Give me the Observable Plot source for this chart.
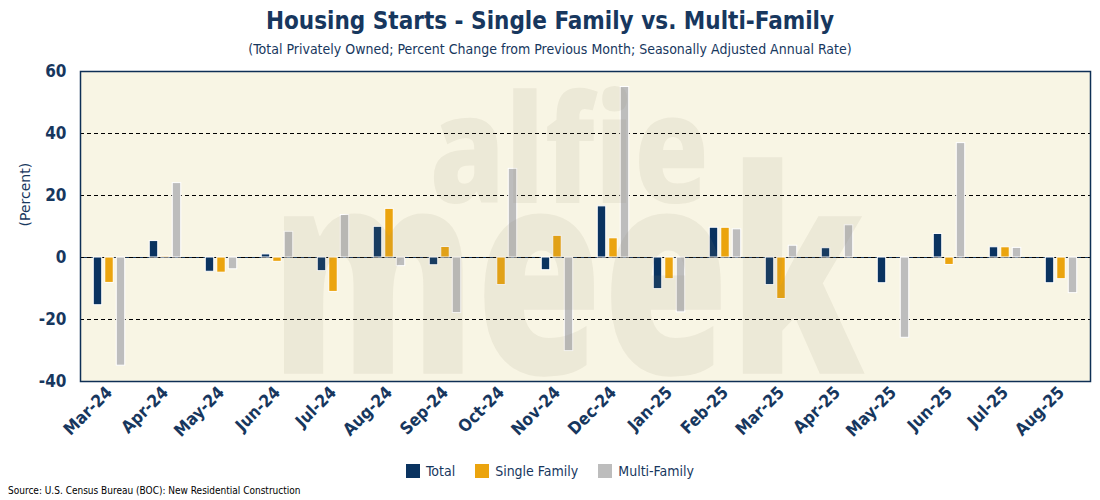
<!DOCTYPE html>
<html>
<head>
<meta charset="utf-8">
<script src="https://cdn.jsdelivr.net/npm/d3@7"></script>
<script src="https://cdn.jsdelivr.net/npm/@observablehq/plot@0.6"></script>
<style>
  html, body { margin: 0; padding: 0; background: #ffffff; }
  body { width: 1100px; height: 500px; position: relative; overflow: hidden; font-family: "DejaVu Sans Condensed", "DejaVu Sans", sans-serif; color: #17375E; }
  #title { position: absolute; top: 6px; left: 0; width: 1100px; text-align: center; font-size: 24px; line-height: 30px; font-weight: bold; color: #17375E; }
  #subtitle { position: absolute; top: 41px; left: 0; width: 1100px; text-align: center; font-size: 14px; line-height: 16px; color: #17375E; }
  #chart { position: absolute; top: 60px; left: 0; }
  #legend { position: absolute; top: 462px; left: 0; width: 1100px; text-align: center; font-size: 14px; line-height: 18px; color: #17375E; }
  #legend span.item { display: inline-block; margin: 0 10px; }
  #legend span.sw { display: inline-block; width: 14px; height: 14px; vertical-align: -2px; margin-right: 6px; }
  #source { position: absolute; top: 485px; left: 8px; font-size: 10px; line-height: 12px; color: #000; }
</style>
</head>
<body>
<div id="title">Housing Starts - Single Family vs. Multi-Family</div>
<div id="subtitle">(Total Privately Owned; Percent Change from Previous Month; Seasonally Adjusted Annual Rate)</div>
<div id="chart"></div>
<div id="legend"></div>
<div id="source">Source: U.S. Census Bureau (BOC): New Residential Construction</div>
<script>
const months = ["Mar-24","Apr-24","May-24","Jun-24","Jul-24","Aug-24","Sep-24","Oct-24","Nov-24","Dec-24","Jan-25","Feb-25","Mar-25","Apr-25","May-25","Jun-25","Jul-25","Aug-25"];
const total  = [-15.4, 5.3, -4.6, 1.0, -4.4, 9.9, -2.5, 0.0, -4.1, 16.5, -10.2, 9.6, -8.9, 3.0, -8.3, 7.6, 3.3, -8.3];
const single = [-8.2, 0.4, -4.9, -1.4, -11.1, 15.7, 3.4, -8.9, 7.0, 6.2, -7.0, 9.6, -13.4, null, null, -2.4, 3.3, -7.0];
const multi  = [-34.9, 24.0, -3.8, 8.3, 13.7, -2.8, -17.9, 28.6, -30.2, 55.0, -17.7, 9.1, 3.8, 10.4, -25.9, 36.9, 3.1, -11.5];
const seriesNames = ["Total", "Single Family", "Multi-Family"];
const seriesColors = ["#0A3360", "#EBA40E", "#BDBDBD"];
const yTicks = [-40, -20, 0, 20, 40, 60];
const gridValues = [-20, 20, 40];
const watermark = ["alfie", "meek"];

const rows = months.map((m, i) => ({month: m, total: total[i], single: single[i], multi: multi[i]}));
const navy = "#17375E";
const inset = 23.75;
const wmStyle = {textAnchor: "start", lineAnchor: "top", fontWeight: 800, fontFamily: "'Open Sans', sans-serif", fill: "#8E8A70", fillOpacity: 0.11, clip: true};

const chart = Plot.plot({
  width: 1100,
  height: 391,
  marginTop: 11,
  marginBottom: 70,
  marginLeft: 80,
  marginRight: 10,
  style: {fontFamily: "'DejaVu Sans Condensed', 'DejaVu Sans', sans-serif", background: "transparent"},
  x: {type: "band", domain: months, padding: 0},
  y: {domain: [-40, 60]},
  marks: [
    Plot.frame({fill: "#F8F5E4", stroke: null}),
    Plot.ruleY(gridValues, {stroke: "#000", strokeWidth: 1, strokeDasharray: "4,3"}),
    Plot.ruleY([0], {stroke: navy, strokeWidth: 1.2}),
    Plot.ruleY([0], {stroke: "#000", strokeWidth: 1.2, strokeDasharray: "4,3"}),
    Plot.barY(rows.filter(d => d.total != null), {x: "month", y: "total", fill: seriesColors[0], stroke: "white", strokeWidth: 1, dx: -11.5, insetLeft: inset, insetRight: inset}),
    Plot.barY(rows.filter(d => d.single != null), {x: "month", y: "single", fill: seriesColors[1], stroke: "white", strokeWidth: 1, dx: 0, insetLeft: inset, insetRight: inset}),
    Plot.barY(rows.filter(d => d.multi != null), {x: "month", y: "multi", fill: seriesColors[2], stroke: "white", strokeWidth: 1, dx: 11.5, insetLeft: inset, insetRight: inset}),
    Plot.text([watermark[0]], {...wmStyle, frameAnchor: "top-left", dx: 349, dy: 25, fontSize: 150}),
    Plot.text([watermark[1]], {...wmStyle, frameAnchor: "top-left", dx: 190, dy: 100, fontSize: 285}),
    Plot.frame({stroke: "#0E2F55", strokeWidth: 1.5}),
    Plot.axisY({ticks: yTicks, tickFormat: d => String(d), tickSize: 0, tickPadding: 14, fontSize: 17, fontWeight: "bold", color: navy, label: null}),
    Plot.axisX({tickSize: 0, tickPadding: 8, tickRotate: -45, fontSize: 17, fontWeight: "bold", color: navy, label: null}),
    Plot.text(["(Percent)"], {frameAnchor: "left", rotate: -90, dx: -55, fontSize: 14, fill: navy, fontFamily: "'DejaVu Sans', sans-serif"})
  ]
});

// squeeze the watermark words horizontally about their left edge
const squeeze = {alfie: 0.81, meek: 0.72};
d3.select(chart).selectAll("text").filter(function() { return squeeze[this.textContent] != null; }).each(function() {
  const s = squeeze[this.textContent];
  const x = +(this.getAttribute("x") || 0);
  const t = this.getAttribute("transform") || "";
  this.setAttribute("transform", `${t} translate(${x},0) scale(${s},1) translate(${-x},0)`);
});

document.getElementById("chart").appendChild(chart);

const legend = document.getElementById("legend");
seriesNames.forEach((name, i) => {
  const item = document.createElement("span");
  item.className = "item";
  const sw = document.createElement("span");
  sw.className = "sw";
  sw.style.background = seriesColors[i];
  item.appendChild(sw);
  item.appendChild(document.createTextNode(name));
  legend.appendChild(item);
});
</script>
</body>
</html>
